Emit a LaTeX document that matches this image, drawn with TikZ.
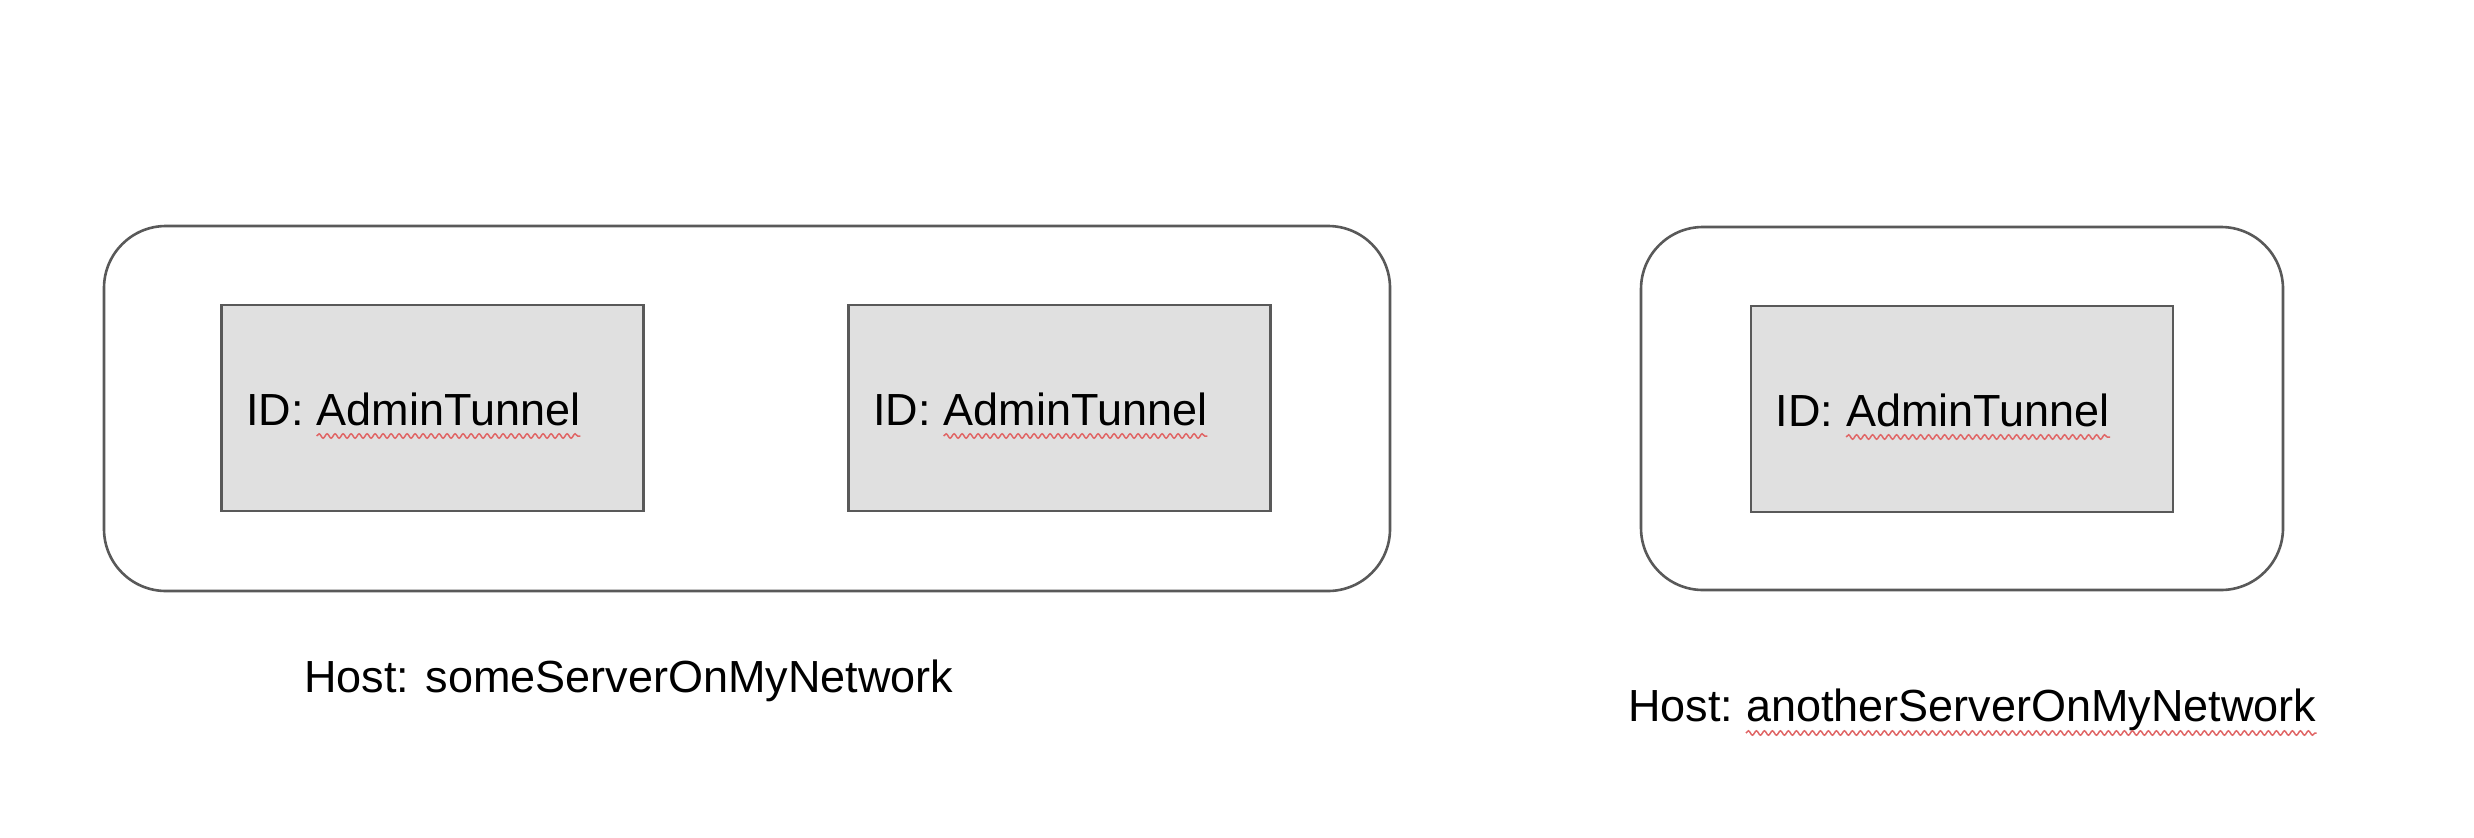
\documentclass[tikz,border=0pt]{standalone}
\usepackage{fontspec}
\setmainfont{Liberation Sans}
\usetikzlibrary{decorations.pathmorphing}
\definecolor{linegray}{HTML}{595959}
\definecolor{boxgray}{HTML}{E0E0E0}
\definecolor{squigred}{HTML}{E06666}
\tikzset{
  hostbox/.style={draw=linegray, line width=2.6pt, rounded corners=62pt, inner sep=0pt},
  tunnelbox/.style={draw=linegray, fill=boxgray, line width=2.6pt, inner sep=0pt, minimum width=422pt, minimum height=206pt},
  lbl/.style={font=\fontsize{45}{54}\selectfont, inner sep=0pt, anchor=base west, text=black},
  squig/.style={draw=squigred, line width=1.5pt, decorate, decoration={snake, amplitude=2.2pt, segment length=8pt}}
}
\begin{document}
\begin{tikzpicture}[x=1pt, y=-1pt]
\useasboundingbox (0,0) rectangle (2474,838);
% outer host boxes
\node[hostbox, minimum width=1286pt, minimum height=365pt] (host1) at (747,408.5) {};
\node[hostbox, minimum width=642pt, minimum height=363pt] (host2) at (1962,408.5) {};
% tunnel boxes
\node[tunnelbox] (t1) at (432.5,408) {};
\node[tunnelbox] (t2) at (1059.5,408) {};
\node[tunnelbox] (t3) at (1962,409) {};
% labels inside tunnel boxes
\node[lbl] (t1a) at ([xshift=26pt, yshift=-17pt]t1.west) {ID:};
\node[lbl] (t1b) at ([xshift=12.5pt]t1a.base east) {AdminTunnel};
\node[lbl] (t2a) at ([xshift=26pt, yshift=-17pt]t2.west) {ID:};
\node[lbl] (t2b) at ([xshift=12.5pt]t2a.base east) {AdminTunnel};
\node[lbl] (t3a) at ([xshift=26pt, yshift=-17pt]t3.west) {ID:};
\node[lbl] (t3b) at ([xshift=12.5pt]t3a.base east) {AdminTunnel};
% host labels
\node[lbl] (h1) at (304,692) {Host: someServerOnMyNetwork};
\node[lbl] (h2a) at (1628,721) {Host:};
\node[lbl] (h2b) at ([xshift=12.5pt]h2a.base east) {anotherServerOnMyNetwork};
% spell-check squiggles
\draw[squig] ([yshift=-11pt]t1b.base west) -- ([yshift=-11pt]t1b.base east);
\draw[squig] ([yshift=-11pt]t2b.base west) -- ([yshift=-11pt]t2b.base east);
\draw[squig] ([yshift=-11pt]t3b.base west) -- ([yshift=-11pt]t3b.base east);
\draw[squig] ([yshift=-12pt]h2b.base west) -- ([yshift=-12pt]h2b.base east);
\end{tikzpicture}
\end{document}
